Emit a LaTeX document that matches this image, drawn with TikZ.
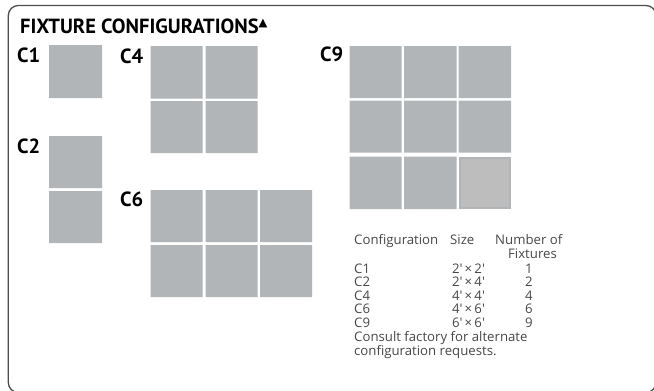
\documentclass[tikz,border=0pt]{standalone}
\usepackage{fontspec}
\usepackage{xcolor}
\newfontfamily\headfont{PT Sans}
\newfontfamily\tabfont{Open Sans}
\newfontfamily\symfont{DejaVu Sans}
\definecolor{panelgray}{HTML}{B1B5B8}
\definecolor{sparegray}{HTML}{BDBDBD}
\definecolor{framegray}{HTML}{4D4D4D}

\begin{document}
\begin{tikzpicture}[x=1pt,y=-1pt,
  heading/.style={anchor=base west, inner sep=0pt, font=\headfont\bfseries\fontsize{20.5}{20.5}\selectfont},
  tabtext/.style={inner sep=0pt, text=black!72, font=\tabfont\fontsize{13.2}{13.2}\selectfont}]
\useasboundingbox (0,0) rectangle (654,391);
%%%FRAME
\draw[framegray, line width=1.3pt, rounded corners=10pt] (8.3,5.5) rectangle (656,392.5);
%%%PANELS
\fill[panelgray]
(49,45) rectangle (102,98) % C1
(49,136) rectangle (102,188) (49,191) rectangle (102,243) % C2
(150.5,46) rectangle (202.5,98.5) (205.5,46) rectangle (257.5,98.5) % C4
(150.5,101) rectangle (202.5,153) (205.5,101) rectangle (257.5,153)
(150.5,190) rectangle (202.5,242) (205.5,190) rectangle (257.5,242) (260,190) rectangle (312,242) % C6
(150.5,245) rectangle (202.5,297) (205.5,245) rectangle (257.5,297) (260,245) rectangle (312,297)
(349.5,46) rectangle (401.5,98) (404,46) rectangle (456.5,98) (458.5,46) rectangle (511,98) % C9
(349.5,100.5) rectangle (401.5,152.5) (404,100.5) rectangle (456.5,152.5) (458.5,100.5) rectangle (511,152.5)
(349.5,156.5) rectangle (401.5,209) (404,156.5) rectangle (456.5,209)
;
\filldraw[fill=sparegray, draw=panelgray, line width=2pt] (459.5,157.5) rectangle (510,208);
%%%LABELS
\node[heading] (title) at (20,33.3) {FIXTURE CONFIGURATIONS\raisebox{6.5pt}{\symfont\mdseries\fontsize{11.5}{11.5}\selectfont ▲}};
\node[heading] (labC1) at (17,62.7) {C1};
\node[heading] (labC2) at (17,153.5) {C2};
\node[heading] (labC4) at (120,63.3) {C4};
\node[heading] (labC6) at (120,206.7) {C6};
\node[heading] (labC9) at (320,61.7) {C9};
%%%TABLE
\path[tabtext]
(354,244) node[anchor=base west] (hdConfig) {Configuration}
(450,244) node[anchor=base west] (hdSize) {Size}
(495,244) node[anchor=base west] (hdNumber) {Number of}
(532.5,258) node[anchor=base] (hdFixtures) {Fixtures}
;
\path[tabtext]
(354,273) node[anchor=base west] (cfgC1) {C1}
(468.5,273) node[anchor=base] (sizeC1) {2'\,×\,2'}
(529,273) node[anchor=base] (numC1) {1}
(354,286.5) node[anchor=base west] (cfgC2) {C2}
(468.5,286.5) node[anchor=base] (sizeC2) {2'\,×\,4'}
(529,286.5) node[anchor=base] (numC2) {2}
(354,300) node[anchor=base west] (cfgC4) {C4}
(468.5,300) node[anchor=base] (sizeC4) {4'\,×\,4'}
(529,300) node[anchor=base] (numC4) {4}
(354,313.5) node[anchor=base west] (cfgC6) {C6}
(468.5,313.5) node[anchor=base] (sizeC6) {4'\,×\,6'}
(529,313.5) node[anchor=base] (numC6) {6}
(354,327) node[anchor=base west] (cfgC9) {C9}
(468.5,327) node[anchor=base] (sizeC9) {6'\,×\,6'}
(529,327) node[anchor=base] (numC9) {9}
;
\path[tabtext]
(354,341) node[anchor=base west] (note1) {Consult factory for alternate}
(354,355) node[anchor=base west] (note2) {configuration requests.}
;
\end{tikzpicture}
\end{document}
